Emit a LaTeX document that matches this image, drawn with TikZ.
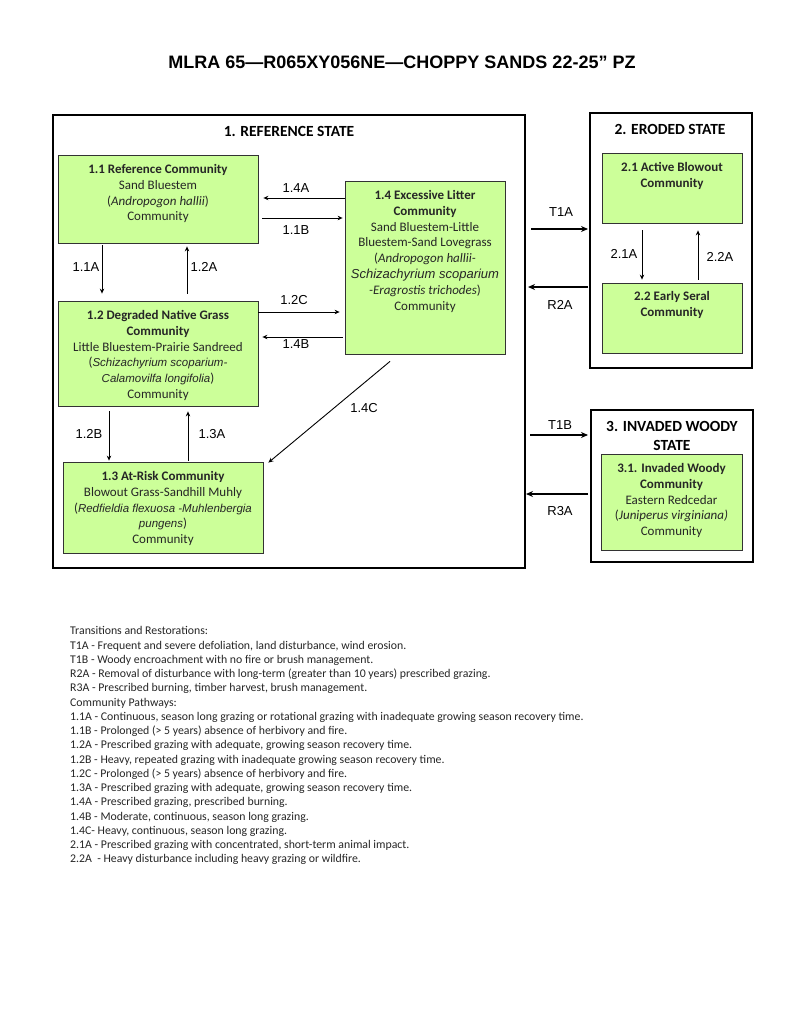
\documentclass[tikz,border=0pt]{standalone}
\usepackage{fontspec}
\setmainfont{Carlito}
\newfontfamily\arialfont{Liberation Sans}
\usetikzlibrary{positioning,arrows.meta}
\definecolor{commgreen}{RGB}{204,255,153}
\newcommand{\spname}[1]{{\arialfont\itshape\fontsize{11.5}{15.8}\selectfont #1}}

\begin{document}
\begin{tikzpicture}[x=1pt,y=-1pt,>={Stealth[length=5pt,width=4.5pt]},
  comm/.style={draw=black!80,fill=commgreen,line width=.8pt,inner sep=0pt},
  statebox/.style={draw,line width=2pt,inner sep=0pt},
  ctext/.style={anchor=north,align=center,inner sep=0pt,text=black!85,
    font=\fontsize{13}{15.8}\selectfont},
  stitle/.style={align=center,inner sep=0pt,font=\bfseries\fontsize{15.5}{19}\selectfont},
  lab/.style={inner sep=0pt,font=\arialfont\fontsize{13}{15}\selectfont},
  thinarr/.style={->,line width=.9pt},
  thickarr/.style={-{Stealth[length=7pt,width=6pt]},line width=2.2pt}]
  \useasboundingbox (0,0) rectangle (800,1035);
  \fill[white] (0,0) rectangle (800,1035);

  \node[inner sep=0pt,font=\arialfont\bfseries\fontsize{18}{21}\selectfont] (title) at (402,62)
    {MLRA 65—R065XY056NE—CHOPPY SANDS 22-25” PZ};

  \node[statebox,minimum width=472,minimum height=453] (s1) at (289,341.5) {};
  \node[statebox,minimum width=162,minimum height=255] (s2) at (671,240.5) {};
  \node[statebox,minimum width=162,minimum height=152] (s3) at (672,486) {};
  \node[stitle] (st1) at (289,131) {1. REFERENCE STATE};
  \node[stitle] (st2) at (670,129) {2. ERODED STATE};
  \node[stitle] (st3) at (672,435.5) {3. INVADED WOODY\\STATE};

  \node[comm,minimum width=200,minimum height=88] (c11) at (158,199) {};
  \node[comm,minimum width=200,minimum height=105] (c12) at (158,353.5) {};
  \node[comm,minimum width=200,minimum height=91] (c13) at (163,507.5) {};
  \node[comm,minimum width=160,minimum height=173] (c14) at (425,267.5) {};
  \node[comm,minimum width=140,minimum height=70] (c21) at (672,188) {};
  \node[comm,minimum width=140,minimum height=70] (c22) at (672,318) {};
  \node[comm,minimum width=141,minimum height=96] (c31) at (671.5,502) {};

  \node[ctext,below=9.5pt of c11.north] (t11) {\textbf{1.1 Reference Community}\\
    Sand Bluestem\\(\textit{Andropogon hallii})\\Community};
  \node[ctext,below=9.5pt of c12.north] (t12) {\textbf{1.2 Degraded Native Grass}\\
    \textbf{Community}\\Little Bluestem-Prairie Sandreed\\
    (\spname{Schizachyrium scoparium-}\\\spname{Calamovilfa longifolia})\\Community};
  \node[ctext,below=9.5pt of c13.north] (t13) {\textbf{1.3 At-Risk Community}\\
    Blowout Grass-Sandhill Muhly\\(\spname{Redfieldia flexuosa -Muhlenbergia}\\
    \spname{pungens})\\Community};
  \node[ctext,below=9.5pt of c14.north] (t14) {\textbf{1.4 Excessive Litter}\\
    \textbf{Community}\\Sand Bluestem-Little\\Bluestem-Sand Lovegrass\\
    (\textit{Andropogon hallii-}\\{\arialfont\itshape Schizachyrium scoparium}\\
    \textit{-Eragrostis trichodes})\\Community};
  \node[ctext,below=9.5pt of c21.north] (t21) {\textbf{2.1 Active Blowout}\\\textbf{Community}};
  \node[ctext,below=9pt of c22.north] (t22) {\textbf{2.2 Early Seral}\\\textbf{Community}};
  \node[ctext,below=9.5pt of c31.north] (t31) {\textbf{3.1. Invaded Woody}\\
    \textbf{Community}\\Eastern Redcedar\\(\textit{Juniperus virginiana)}\\Community};

  \draw[thinarr] (c14.west |- 0,198) -- ([xshift=5]c11.east |- 0,198);
  \draw[thinarr] ([xshift=4]c11.east |- 0,218) -- ([xshift=-2]c14.west |- 0,218);
  \draw[thinarr] (c12.east |- 0,312) -- ([xshift=-5]c14.west |- 0,312);
  \draw[thinarr] ([xshift=-2]c14.west |- 0,337) -- ([xshift=4]c12.east |- 0,337);
  \draw[thinarr] ([yshift=-2]c11.south -| 102,0) -- ([yshift=7]c12.north -| 102,0);
  \draw[thinarr] ([yshift=7]c12.north -| 187,0) -- ([yshift=-3]c11.south -| 187,0);
  \draw[thinarr] ([yshift=-5]c12.south -| 109,0) -- ([yshift=1]c13.north -| 109,0);
  \draw[thinarr] ([yshift=1]c13.north -| 188,0) -- ([yshift=-5]c12.south -| 188,0);
  \draw[thinarr] ([shift={(-35,7)}]c14.south) -- ([shift={(5,1)}]c13.north east);
  \draw[thinarr] ([yshift=-7]c21.south -| 642,0) -- ([yshift=3]c22.north -| 642,0);
  \draw[thinarr] ([yshift=3]c22.north -| 698,0) -- ([yshift=-7]c21.south -| 698,0);
  \draw[thickarr] ([xshift=5]s1.east |- 0,229) -- ([xshift=-1]s2.west |- 0,229);
  \draw[thickarr] ([xshift=-1]s2.west |- 0,287) -- ([xshift=2]s1.east |- 0,287);
  \draw[thickarr] ([xshift=4]s1.east |- 0,435) -- ([xshift=-2]s3.west |- 0,435);
  \draw[thickarr] ([xshift=-2]s3.west |- 0,494) -- (s1.east |- 0,494);

  \node[lab] (l14a) at (296,188) {1.4A};
  \node[lab] (l11b) at (296,230) {1.1B};
  \node[lab] (l12c) at (294,300) {1.2C};
  \node[lab] (l14b) at (296,344) {1.4B};
  \node[lab] (l11a) at (86,267) {1.1A};
  \node[lab] (l12a) at (204,267) {1.2A};
  \node[lab] (l12b) at (89,434) {1.2B};
  \node[lab] (l13a) at (212,434) {1.3A};
  \node[lab] (l14c) at (364,408) {1.4C};
  \node[lab] (l21a) at (624,254) {2.1A};
  \node[lab] (l22a) at (720,257) {2.2A};
  \node[lab] (lt1a) at (561,212) {T1A};
  \node[lab] (lr2a) at (560,305) {R2A};
  \node[lab] (lt1b) at (560,425) {T1B};
  \node[lab] (lr3a) at (560,511) {R3A};

  \node[anchor=north west,align=left,inner sep=0pt,text=black!85,
    font=\fontsize{11.8}{14.25}\selectfont] (notes) at (70,626.5) {Transitions and Restorations:\\
    T1A - Frequent and severe defoliation, land disturbance, wind erosion.\\
    T1B - Woody encroachment with no fire or brush management.\\
    R2A - Removal of disturbance with long-term (greater than 10 years) prescribed grazing.\\
    R3A - Prescribed burning, timber harvest, brush management.\\
    Community Pathways:\\
    1.1A - Continuous, season long grazing or rotational grazing with inadequate growing season recovery time.\\
    1.1B - Prolonged (> 5 years) absence of herbivory and fire.\\
    1.2A - Prescribed grazing with adequate, growing season recovery time.\\
    1.2B - Heavy, repeated grazing with inadequate growing season recovery time.\\
    1.2C - Prolonged (> 5 years) absence of herbivory and fire.\\
    1.3A - Prescribed grazing with adequate, growing season recovery time.\\
    1.4A - Prescribed grazing, prescribed burning.\\
    1.4B - Moderate, continuous, season long grazing.\\
    1.4C- Heavy, continuous, season long grazing.\\
    2.1A - Prescribed grazing with concentrated, short-term animal impact.\\
    2.2A\ \ - Heavy disturbance including heavy grazing or wildfire.};
\end{tikzpicture}
\end{document}
